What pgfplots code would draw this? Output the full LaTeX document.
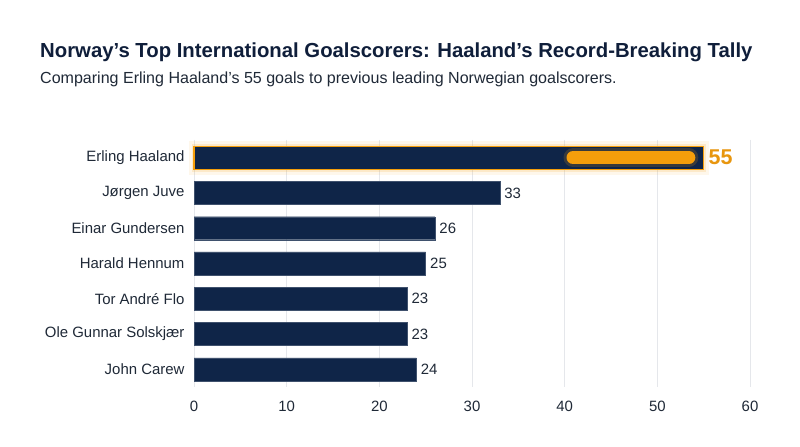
\documentclass[border=0pt]{standalone}
\usepackage{fontspec}
\setmainfont{Liberation Sans}
\usepackage{pgfplots}
\pgfplotsset{compat=1.18}

\definecolor{navy}{HTML}{0F2548}
\definecolor{titlecol}{HTML}{0F1E3A}
\definecolor{labcol}{HTML}{1F2937}
\definecolor{gold}{HTML}{F59E0B}
\definecolor{golddark}{HTML}{E8960E}
\definecolor{gridcol}{HTML}{E5E7EB}

\begin{document}
\begin{tikzpicture}[x=1bp,y=1bp]
\useasboundingbox[fill=white] (0,0) rectangle (800,447);

\node[anchor=base west, inner sep=0pt, text=titlecol, font=\fontsize{20.4}{24}\selectfont\bfseries]
  at (40,389) {Norway’s Top International Goalscorers: Haaland’s Record-Breaking Tally};
\node[anchor=base west, inner sep=0pt, text=labcol, font=\fontsize{16.1}{19}\selectfont]
  at (40,363) {Comparing Erling Haaland’s 55 goals to previous leading Norwegian goalscorers.};

\begin{axis}[
    at={(194bp,60bp)}, anchor=south west,
    scale only axis, width=556bp, height=247bp,
    xmin=0, xmax=60, ymin=-0.5, ymax=6.5,
    y dir=reverse,
    axis line style={draw=none},
    xtick={0,10,...,60},
    ytick={0,...,6},
    yticklabels={Erling Haaland, Jørgen Juve, Einar Gundersen, Harald Hennum,
                 Tor André Flo, Ole Gunnar Solskjær, John Carew},
    tick style={draw=none},
    xmajorgrids, grid style={gridcol, line width=0.8bp},
    /pgf/number format/assume math mode=true,
    ticklabel style={font=\fontsize{15}{18}\selectfont, text=labcol},
    xticklabel style={yshift=-11bp},
    yticklabel style={xshift=-6bp},
    clip=false,
]
% other scorers
\addplot[xbar, bar shift=0pt, bar width=23bp, fill=navy, draw=navy!80!white, line width=0.4bp,
    nodes near coords, point meta=explicit symbolic,
    nodes near coords style={anchor=west, xshift=1bp, font=\fontsize{15}{18}\selectfont, text=labcol}]
  table[meta=lab] {
    x y lab
    33 1 33
    26 2 26
    25 3 25
    23 4 23
    23 5 23
    24 6 24
  };
% Haaland glow
\addplot[xbar, bar shift=0pt, bar width=23bp, fill=none, draw=gold, draw opacity=0.08, line width=11bp, forget plot]
  coordinates {(55,0)};
\addplot[xbar, bar shift=0pt, bar width=23bp, fill=none, draw=gold, draw opacity=0.15, line width=5bp, forget plot]
  coordinates {(55,0)};
% Haaland bar
\addplot[xbar, bar shift=0pt, bar width=23bp, fill=navy, draw=gold, line width=1.2bp,
    nodes near coords, point meta=explicit symbolic,
    nodes near coords style={anchor=west, xshift=1bp, font=\fontsize{21.5}{24}\selectfont\bfseries, text=golddark}]
  table[meta=lab] {
    x y lab
    55 0 55
  };
% highlight pill inside the bar
\addplot[draw=gold, draw opacity=0.18, line width=19bp, line cap=round, forget plot]
  coordinates {(40.9,0) (53.4,0)};
\addplot[draw=gold, line width=13bp, line cap=round, forget plot]
  coordinates {(40.9,0) (53.4,0)};
\end{axis}
\end{tikzpicture}
\end{document}
